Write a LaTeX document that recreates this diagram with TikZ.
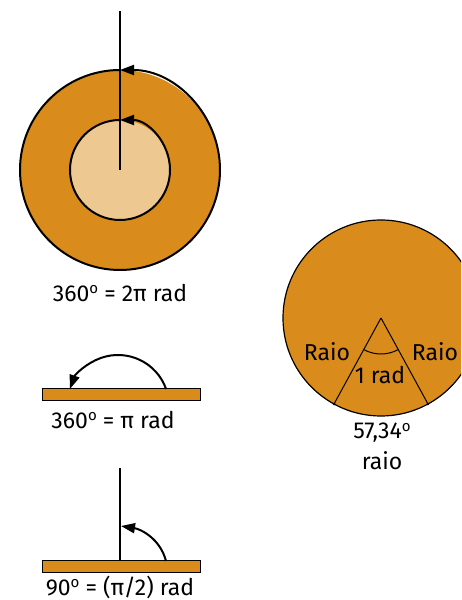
\documentclass[tikz,border=0pt]{standalone}
\usepackage{fontspec}
\setmainfont{Fira Sans}
\usepackage{xcolor}
\usetikzlibrary{arrows.meta, positioning}
\definecolor{laranja}{RGB}{217,139,27}
\definecolor{creme}{RGB}{237,200,145}
\newcommand{\ordo}{\raisebox{0.62ex}{\fontsize{7.5}{8}\selectfont o}}

\begin{document}
\begin{tikzpicture}[
  x=0.5pt, y=0.5pt,
  >={Triangle[length=7pt,width=5pt]},
  traco/.style={draw, line width=1pt},
  fino/.style={draw, line width=0.5pt},
  barra/.style={fill=laranja, draw, line width=0.5pt},
  rotulo/.style={inner sep=0pt, font=\fontsize{11.5}{13}\selectfont}
]
\useasboundingbox (0,0) rectangle (461,600);
\clip (0,0) rectangle (461,600);

\coordinate (centro) at (120,430);
\coordinate (topo) at (120,589);
\fill[laranja] (centro) circle[radius=100];
\draw[traco, ->] (centro) ++(90:100) arc[start angle=90, end angle=450, radius=100];
\fill[creme] (centro) circle[radius=50];
\draw[traco, ->] (centro) ++(90:50) arc[start angle=90, end angle=450, radius=50];
\draw[traco] (centro) -- (topo);
\node[rotulo] (volta) at (120,307) {360\ordo{} = 2π rad};

\coordinate (origem) at (381,282);
\filldraw[fill=laranja, line width=0.6pt] (origem) circle[radius=98];
\draw[fino] (origem) -- ++(241.35:98) coordinate (raioA);
\draw[fino] (origem) -- ++(298.65:98) coordinate (raioB);
\fill (raioA) circle[radius=1.5];
\fill (raioB) circle[radius=1.5];
\draw[fino] (origem) ++(241.35:36) arc[start angle=241.35, end angle=298.65, radius=36];
\node[rotulo] (raioE) at (327,248) {Raio};
\node[rotulo] (raioD) at (435,248) {Raio};
\node[rotulo] (umrad) at (380,225) {1 rad};
\node[rotulo] (graus) at (382,167) {57,34\ordo};
\node[rotulo, below=4pt of graus] (arco) {raio};

\draw[barra] (42,199) rectangle (200,211);
\coordinate (meio) at (118,194);
\draw[traco, ->] (meio) ++(19.5:51) arc[start angle=19.5, end angle=160.5, radius=51];
\node[rotulo] (meiavolta) at (113,180) {360\ordo{} = π rad};

\draw[barra] (42,27) rectangle (200,39);
\coordinate (pe) at (120,39);
\coordinate (alto) at (120,132);
\coordinate (partida) at (166,39);
\coordinate (chegada) at (121,74);
\draw[traco] (pe) -- (alto);
\draw[traco, ->] (partida) .. controls (160,62) and (140,71) .. (chegada);
\node[rotulo] (reto) at (120,13) {90\ordo{} = (π/2) rad};
\end{tikzpicture}
\end{document}
